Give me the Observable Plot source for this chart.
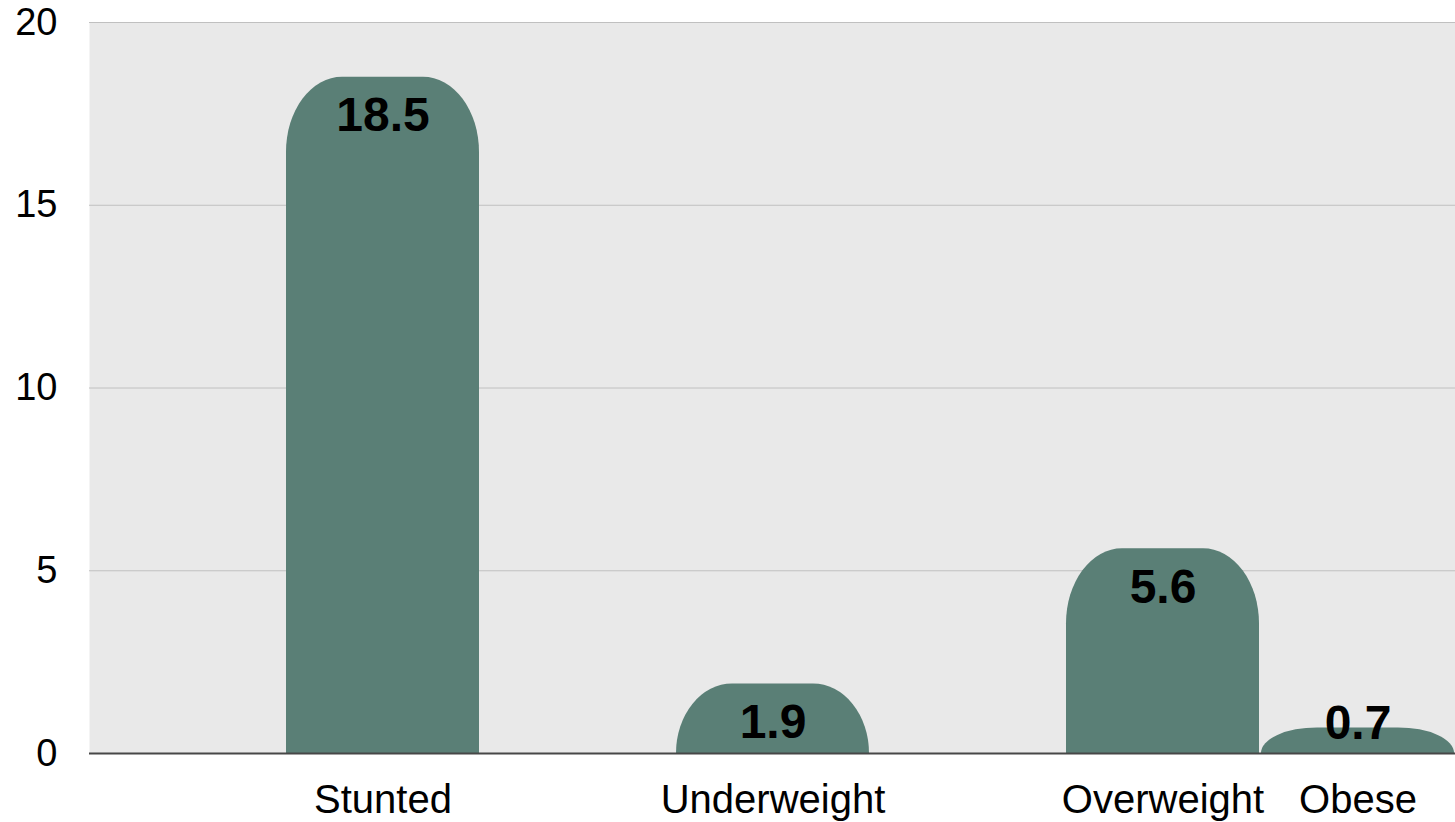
<!DOCTYPE html>
<html><head><meta charset="utf-8">
<script src="https://cdn.jsdelivr.net/npm/d3@7"></script>
<script src="https://cdn.jsdelivr.net/npm/@observablehq/plot@0.6"></script>
<style>html,body{margin:0;padding:0;background:#fff;overflow:hidden;}</style>
</head><body><div id="chart"></div>
<script>
const categories = ["Stunted", "Underweight", "Overweight", "Obese"];
const values = [18.5, 1.9, 5.6, 0.7];
const slots = ["gap0", "Stunted", "gap1", "Underweight", "gap2", "Overweight", "Obese"];
const yTicks = [0, 5, 10, 15, 20];

const data = categories.map((c, i) => ({category: c, value: values[i]}));

const chart = Plot.plot({
  width: 1455,
  height: 822,
  marginLeft: 89,
  marginRight: 0,
  marginTop: 22,
  marginBottom: 69,
  style: {fontFamily: "'Liberation Sans', Arial, sans-serif", color: "#000", background: "#fff", overflow: "visible"},
  x: {type: "band", domain: slots, padding: 0},
  y: {domain: [0, 20]},
  marks: [
    Plot.frame({fill: "#e9e9e9", stroke: "none"}),
    Plot.gridY(yTicks, {stroke: "#c0c0c0", strokeOpacity: 1, strokeWidth: 1}),
    Plot.barY(data, {
      x: "category",
      y1: d => -d.value,
      y2: "value",
      fill: "#5a7f76",
      rx: 56,
      ry: 75,
      insetLeft: 1,
      insetRight: 1,
      clip: true
    }),
    Plot.ruleY([0], {stroke: "#474747", strokeWidth: 2}),
    Plot.text(data, {
      x: "category",
      y: d => Math.max(d.value - 1.06, 0.81),
      text: d => d.value.toFixed(1),
      fontSize: 48,
      fontWeight: "bold",
      fill: "#000"
    }),
    Plot.axisY(yTicks, {tickSize: 0, tickPadding: 32, fontSize: 38, label: null}),
    Plot.axisX(categories, {tickSize: 0, tickPadding: 31, fontSize: 40, label: null})
  ]
});
document.getElementById("chart").appendChild(chart);
</script>
</body></html>
